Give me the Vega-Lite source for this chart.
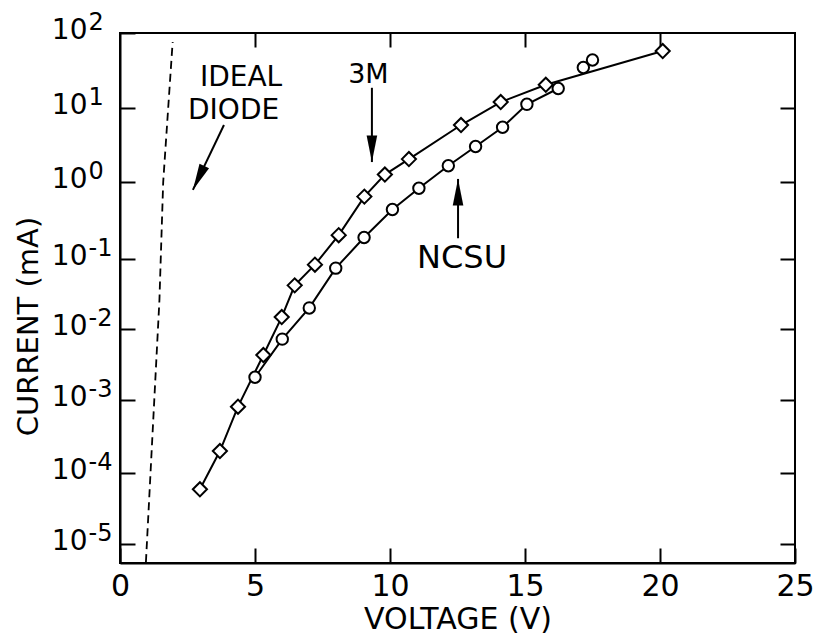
{
  "$schema": "https://vega.github.io/schema/vega-lite/v6.json",
  "width": 675,
  "height": 530,
  "autosize": "none",
  "padding": {"left": 120, "top": 33, "right": 26, "bottom": 72},
  "background": "white",
  "config": {
    "view": {"stroke": "black", "strokeWidth": 2},
    "font": "DejaVu Sans",
    "axis": {"grid": false, "labelFlush": false, "labelOverlap": false, "tickColor": "black", "tickWidth": 2, "domainColor": "black", "domainWidth": 2, "labelColor": "black", "titleColor": "black", "titleFontWeight": "normal", "labelFont": "DejaVu Sans", "titleFont": "DejaVu Sans"}
  },
  "datasets": {
    "ideal": [
      {"V": 0.96, "I": 5.6e-6},
      {"V": 1.46, "I": 0.0257},
      {"V": 1.60, "I": 1.0},
      {"V": 1.95, "I": 75.9}
    ],
    "m3": [
      {"V": 2.96, "I": 5.9e-5},
      {"V": 3.70, "I": 2.0e-4},
      {"V": 4.37, "I": 8.1e-4},
      {"V": 5.31, "I": 4.3e-3},
      {"V": 5.99, "I": 1.48e-2},
      {"V": 6.47, "I": 4.2e-2},
      {"V": 7.22, "I": 8.3e-2},
      {"V": 8.10, "I": 0.204},
      {"V": 9.05, "I": 0.646},
      {"V": 9.81, "I": 1.26},
      {"V": 10.70, "I": 2.04},
      {"V": 12.63, "I": 5.89},
      {"V": 14.10, "I": 12.0},
      {"V": 15.77, "I": 20.4},
      {"V": 20.10, "I": 57.5}
    ],
    "ncsu": [
      {"V": 5.00, "I": 2.09e-3},
      {"V": 6.01, "I": 7.2e-3},
      {"V": 7.01, "I": 2.0e-2},
      {"V": 7.99, "I": 7.4e-2},
      {"V": 9.04, "I": 0.19},
      {"V": 10.09, "I": 0.44},
      {"V": 11.07, "I": 0.83},
      {"V": 12.16, "I": 1.66},
      {"V": 13.17, "I": 3.02},
      {"V": 14.17, "I": 5.5},
      {"V": 15.07, "I": 11.2},
      {"V": 16.23, "I": 18.2},
      {"V": 17.16, "I": 34.7},
      {"V": 17.50, "I": 43.6}
    ],
    "arrows": [
      {"name": "ideal", "V1": 3.85, "I1": 5.9, "V2": 2.70, "I2": 0.79},
      {"name": "m3", "V1": 9.33, "I1": 18.6, "V2": 9.33, "I2": 1.86},
      {"name": "ncsu", "V1": 12.52, "I1": 0.186, "V2": 12.52, "I2": 1.10}
    ],
    "labels": [
      {"name": "ideal", "text": "IDEAL", "V": 2.96, "I": 19.5},
      {"name": "ideal", "text": "DIODE", "V": 2.52, "I": 7.0},
      {"name": "m3", "text": "3M", "V": 9.2, "I": 21.4},
      {"name": "ncsu", "text": "NCSU", "V": 12.67, "I": 0.074}
    ]
  },
  "layer": [
    {
      "data": {"name": "ideal"},
      "mark": {"type": "line", "color": "black", "strokeWidth": 1.8, "strokeDash": [8, 5]},
      "encoding": {
        "x": {"field": "V", "type": "quantitative",
          "scale": {"domain": [0, 25], "nice": false, "zero": false},
          "axis": {"orient": "bottom", "values": [0, 5, 10, 15, 20, 25], "title": "VOLTAGE (V)", "tickSize": -15, "labelFontSize": 30, "labelPadding": 23, "titleFontSize": 30, "titleBaseline": "alphabetic", "titleY": 65}},
        "y": {"field": "I", "type": "quantitative",
          "scale": {"type": "log", "domain": [5.45e-6, 1e-5, 1e-4, 1e-3, 1e-2, 1e-1, 1, 10, 100], "range": [530, 511, 440, 367, 296, 226, 149, 75, 0], "nice": false},
          "axis": {"orient": "left", "values": [1e-5, 1e-4, 1e-3, 1e-2, 1e-1, 1, 10, 100], "labelExpr": "'10'", "title": "CURRENT (mA)", "tickSize": -15, "labelFontSize": 28, "labelPadding": 48, "labelOffset": -3, "titleFontSize": 29, "titleBaseline": "alphabetic", "titleX": -83, "titleY": 293, "titleAngle": -90}}
      }
    },
    {
      "data": {"name": "m3"},
      "mark": {"type": "line", "color": "black", "strokeWidth": 2},
      "encoding": {
        "x": {"field": "V", "type": "quantitative",
          "axis": {"orient": "top", "values": [5, 10, 15, 20], "labels": false, "title": null, "domain": false, "tickSize": -14}},
        "y": {"field": "I", "type": "quantitative",
          "axis": {"orient": "right", "values": [1e-5, 1e-4, 1e-3, 1e-2, 1e-1, 1, 10], "labels": false, "title": null, "domain": false, "tickSize": -15}}
      }
    },
    {
      "data": {"name": "ncsu"},
      "transform": [{"filter": "datum.V < 16.5"}],
      "mark": {"type": "line", "color": "black", "strokeWidth": 2},
      "encoding": {
        "x": {"field": "V", "type": "quantitative", "axis": null},
        "y": {"field": "I", "type": "quantitative",
          "axis": {"orient": "left", "values": [1e-5, 1e-4, 1e-3, 1e-2, 1e-1, 1, 10, 100], "labelExpr": "['-5','-4','-3','-2','-1','0','1','2'][round(log(datum.value)/LN10)+5]", "title": null, "domain": false, "ticks": false, "tickSize": 0, "labelAlign": "left", "labelFontSize": 24, "labelPadding": 32, "labelOffset": -11}}
      }
    },
    {
      "data": {"name": "m3"},
      "mark": {"type": "point", "shape": "diamond", "filled": true, "fill": "white", "stroke": "black", "strokeWidth": 2, "size": 200, "opacity": 1},
      "encoding": {
        "x": {"field": "V", "type": "quantitative", "axis": null},
        "y": {"field": "I", "type": "quantitative", "axis": null}
      }
    },
    {
      "data": {"name": "ncsu"},
      "mark": {"type": "point", "shape": "circle", "filled": true, "fill": "white", "stroke": "black", "strokeWidth": 2, "size": 130, "opacity": 1},
      "encoding": {
        "x": {"field": "V", "type": "quantitative", "axis": null},
        "y": {"field": "I", "type": "quantitative", "axis": null}
      }
    },
    {
      "data": {"name": "arrows"},
      "mark": {"type": "rule", "color": "black", "strokeWidth": 2},
      "encoding": {
        "x": {"field": "V1", "type": "quantitative", "axis": null},
        "y": {"field": "I1", "type": "quantitative", "axis": null},
        "x2": {"field": "V2"},
        "y2": {"field": "I2"}
      }
    },
    {
      "data": {"name": "arrows"},
      "transform": [{"filter": "datum.name == 'ideal'"}],
      "mark": {"type": "point", "shape": "M0,0L0.4,2L-0.4,2Z", "filled": true, "color": "black", "opacity": 1, "size": 700, "angle": 205.5},
      "encoding": {
        "x": {"field": "V2", "type": "quantitative", "axis": null},
        "y": {"field": "I2", "type": "quantitative", "axis": null}
      }
    },
    {
      "data": {"name": "arrows"},
      "transform": [{"filter": "datum.name == 'm3'"}],
      "mark": {"type": "point", "shape": "M0,0L0.4,2L-0.4,2Z", "filled": true, "color": "black", "opacity": 1, "size": 700, "angle": 180},
      "encoding": {
        "x": {"field": "V2", "type": "quantitative", "axis": null},
        "y": {"field": "I2", "type": "quantitative", "axis": null}
      }
    },
    {
      "data": {"name": "arrows"},
      "transform": [{"filter": "datum.name == 'ncsu'"}],
      "mark": {"type": "point", "shape": "M0,0L0.4,2L-0.4,2Z", "filled": true, "color": "black", "opacity": 1, "size": 700, "angle": 0},
      "encoding": {
        "x": {"field": "V2", "type": "quantitative", "axis": null},
        "y": {"field": "I2", "type": "quantitative", "axis": null}
      }
    },
    {
      "data": {"name": "labels"},
      "transform": [{"filter": "datum.name == 'ideal'"}],
      "mark": {"type": "text", "font": "DejaVu Sans", "fontSize": 28, "align": "left", "baseline": "alphabetic", "color": "black"},
      "encoding": {
        "x": {"field": "V", "type": "quantitative", "axis": null},
        "y": {"field": "I", "type": "quantitative", "axis": null},
        "text": {"field": "text"}
      }
    },
    {
      "data": {"name": "labels"},
      "transform": [{"filter": "datum.name == 'm3'"}],
      "mark": {"type": "text", "font": "DejaVu Sans", "fontSize": 27, "align": "center", "baseline": "alphabetic", "color": "black"},
      "encoding": {
        "x": {"field": "V", "type": "quantitative", "axis": null},
        "y": {"field": "I", "type": "quantitative", "axis": null},
        "text": {"field": "text"}
      }
    },
    {
      "data": {"name": "labels"},
      "transform": [{"filter": "datum.name == 'ncsu'"}],
      "mark": {"type": "text", "font": "DejaVu Sans", "fontSize": 32, "align": "center", "baseline": "alphabetic", "color": "black"},
      "encoding": {
        "x": {"field": "V", "type": "quantitative", "axis": null},
        "y": {"field": "I", "type": "quantitative", "axis": null},
        "text": {"field": "text"}
      }
    }
  ],
  "resolve": {"axis": {"x": "independent", "y": "independent"}}
}
